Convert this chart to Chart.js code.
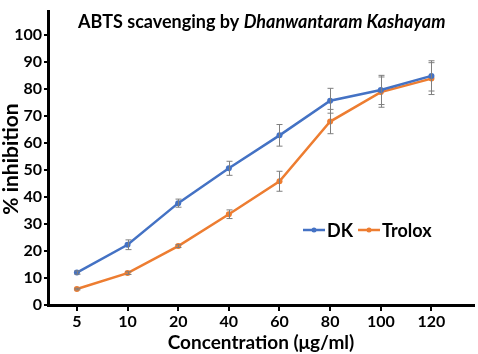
<!DOCTYPE html>
<html>
<head>
<meta charset="utf-8">
<script src="https://cdn.jsdelivr.net/npm/chart.js@4.4.1/dist/chart.umd.min.js"></script>
<style>
  html, body { margin: 0; padding: 0; background: #fff; }
  #wrap { width: 478px; height: 354px; position: relative; }
</style>
</head>
<body>
<div id="wrap"><canvas id="chart"></canvas></div>
<script>
const concentrations = ["5", "10", "20", "40", "60", "80", "100", "120"];
const dkValues = [12, 22.3, 37.7, 50.6, 62.8, 75.6, 79.6, 84.8];
const dkErrors = [0.6, 1.8, 1.5, 2.6, 4.0, 4.6, 5.4, 5.6];
const troloxValues = [5.9, 11.8, 21.8, 33.6, 45.8, 67.9, 78.8, 83.8];
const troloxErrors = [0.3, 0.5, 0.5, 1.6, 3.7, 4.5, 5.6, 5.9];
const yTicks = [0, 10, 20, 30, 40, 50, 60, 70, 80, 90, 100];

const FONT = "Lato, 'Open Sans', sans-serif";
const BLUE = "#4472c4";
const ORANGE = "#ed7d31";

const toPoints = (values) => values.map((v, i) => ({ x: i, y: v }));

// error bars drawn on top of the lines
const errorBars = {
  id: "errorBars",
  afterDatasetsDraw(chart) {
    const { ctx, scales: { x, y } } = chart;
    const errs = [dkErrors, troloxErrors];
    ctx.save();
    ctx.strokeStyle = "#7f7f7f";
    ctx.lineWidth = 1;
    chart.data.datasets.forEach((ds, di) => {
      ds.data.forEach((p, i) => {
        const e = errs[di][i];
        const px = Math.round(x.getPixelForValue(p.x)) + 0.5;
        const top = y.getPixelForValue(p.y + e);
        const bot = y.getPixelForValue(p.y - e);
        ctx.beginPath();
        ctx.moveTo(px, top); ctx.lineTo(px, bot);
        ctx.moveTo(px - 3, top); ctx.lineTo(px + 3, top);
        ctx.moveTo(px - 3, bot); ctx.lineTo(px + 3, bot);
        ctx.stroke();
      });
    });
    ctx.restore();
  },
};

// title with italic plant name, plus the rotated y title
const texts = {
  id: "texts",
  afterDraw(chart) {
    const { ctx } = chart;
    ctx.save();
    ctx.fillStyle = "#000";
    ctx.textBaseline = "alphabetic";
    ctx.textAlign = "left";
    let xPos = 78;
    ctx.font = `bold 18px ${FONT}`;
    const first = "ABTS scavenging by ";
    ctx.fillText(first, xPos, 28);
    xPos += ctx.measureText(first).width;
    ctx.font = `italic bold 18px ${FONT}`;
    ctx.fillText("Dhanwantaram Kashayam", xPos, 28);

    ctx.translate(11, 159);
    ctx.rotate(-Math.PI / 2);
    ctx.textAlign = "center";
    ctx.textBaseline = "middle";
    ctx.font = `bold 21px ${FONT}`;
    ctx.fillText("% inhibition", 0, 0);
    ctx.restore();
  },
};

// legend inside plot area
const innerLegend = {
  id: "innerLegend",
  afterDraw(chart) {
    const { ctx } = chart;
    const spots = [303, 358];
    ctx.save();
    ctx.font = `bold 18px ${FONT}`;
    ctx.textBaseline = "middle";
    chart.data.datasets.forEach((ds, i) => {
      const x0 = spots[i];
      const yy = 230;
      ctx.strokeStyle = ds.borderColor;
      ctx.lineWidth = 2.5;
      ctx.beginPath();
      ctx.moveTo(x0, yy); ctx.lineTo(x0 + 22, yy);
      ctx.stroke();
      ctx.fillStyle = ds.borderColor;
      ctx.beginPath();
      ctx.arc(x0 + 11, yy, 2.5, 0, Math.PI * 2);
      ctx.fill();
      ctx.fillStyle = "#000";
      ctx.fillText(ds.label, x0 + 24, yy + 1);
    });
    ctx.restore();
  },
};

new Chart(document.getElementById("chart"), {
  type: "line",
  data: {
    datasets: [
      {
        label: "DK",
        data: toPoints(dkValues),
        borderColor: BLUE,
        backgroundColor: BLUE,
        borderWidth: 2.5,
        pointRadius: 3,
        pointBorderWidth: 0,
      },
      {
        label: "Trolox",
        data: toPoints(troloxValues),
        borderColor: ORANGE,
        backgroundColor: ORANGE,
        borderWidth: 2.5,
        pointRadius: 3,
        pointBorderWidth: 0,
      },
    ],
  },
  options: {
    responsive: true,
    maintainAspectRatio: false,
    animation: false,
    layout: { padding: { top: 0, right: 3, left: 0, bottom: 0 } },
    plugins: {
      legend: { display: false },
      tooltip: { enabled: false },
    },
    scales: {
      x: {
        type: "linear",
        min: -0.57,
        max: 7.84,
        afterBuildTicks: (scale) => {
          scale.ticks = concentrations.map((_, i) => ({ value: i }));
        },
        afterFit: (scale) => { scale.height = 49; },
        border: { display: true, color: "#000", width: 3 },
        grid: { drawOnChartArea: false, drawTicks: true, tickLength: 6, color: "#000", lineWidth: 2 },
        ticks: {
          color: "#000",
          padding: 1,
          font: { family: FONT, size: 16, weight: "bold" },
          callback: (v) => concentrations[v] ?? "",
        },
        title: {
          display: true,
          text: "Concentration (μg/ml)",
          color: "#000",
          padding: { top: 1, bottom: 0 },
          font: { family: FONT, size: 19, weight: "bold" },
        },
      },
      y: {
        min: 0,
        max: 108.6,
        afterBuildTicks: (scale) => {
          scale.ticks = yTicks.map((v) => ({ value: v }));
        },
        afterFit: (scale) => { scale.width = 48; },
        border: { display: true, color: "#000", width: 3 },
        grid: { drawOnChartArea: false, drawTicks: true, tickLength: 4, color: "#000", lineWidth: 2 },
        ticks: {
          color: "#000",
          padding: 2,
          font: { family: FONT, size: 16, weight: "bold" },
        },
      },
    },
  },
  plugins: [errorBars, texts, innerLegend],
});
</script>
</body>
</html>
